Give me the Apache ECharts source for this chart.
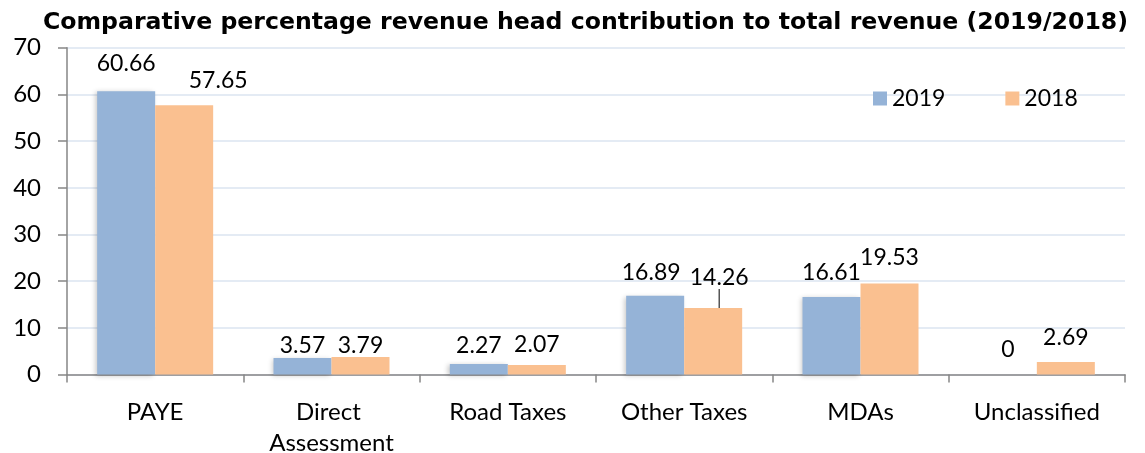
<!DOCTYPE html>
<html>
<head>
<meta charset="utf-8">
<script src="https://cdn.jsdelivr.net/npm/echarts@6/dist/echarts.min.js"></script>
<style>
html,body{margin:0;padding:0;background:#fff;}
#c{width:1145px;height:453px;}
</style>
</head>
<body>
<div id="c"></div>
<script>
var titleText = 'Comparative percentage revenue head contribution to total revenue (2019/2018)';
var categories = ['PAYE', 'Direct Assessment', 'Road Taxes', 'Other Taxes', 'MDAs', 'Unclassified'];
var seriesNames = ['2019', '2018'];
var values2019 = [60.66, 3.57, 2.27, 16.89, 16.61, 0];
var values2018 = [57.65, 3.79, 2.07, 14.26, 19.53, 2.69];
var yTicks = [0, 10, 20, 30, 40, 50, 60, 70];

// label nudges (style only): [dx, rise above bar top of label centre]
var nudge2019 = [[0, 28], [0, 13], [0, 19], [-4, 24], [0, 25], [0, 25.5]];
var nudge2018 = [[34, 25.5], [0, 12], [0, 21], [6, 31], [0, 26.5], [0, 25]];
var leaderIndex2018 = 3;

var FONT = 'Lato';
function mkData2019(vals, nudge) {
  return vals.map(function (v, i) {
    return { value: v, label: { offset: [nudge[i][0], -(nudge[i][1] - 12)] } };
  });
}
function mkData2018(vals, leaderIdx) {
  return vals.map(function (v, i) {
    if (i === leaderIdx) {
      return { value: v, labelLine: { show: true, lineStyle: { color: '#000', width: 1 } } };
    }
    return { value: v };
  });
}

var chart = echarts.init(document.getElementById('c'));
var option = {
  animation: false,
  backgroundColor: '#fff',
  title: {
    text: titleText,
    left: 38,
    top: 6,
    textStyle: { fontFamily: 'DejaVu Sans', fontWeight: 'bold', fontSize: 23.6, color: '#000' }
  },
  legend: {
    data: seriesNames,
    left: 868,
    top: 82,
    itemWidth: 14,
    itemHeight: 14,
    itemGap: 60,
    icon: 'rect',
    textStyle: { fontFamily: FONT, fontSize: 23, color: '#000' }
  },
  grid: { left: 67, right: 20, top: 47.7, bottom: 78.4, containLabel: false, outerBoundsMode: 'none' },
  xAxis: {
    type: 'category',
    data: categories,
    axisLine: { lineStyle: { color: '#868686', width: 1.5 } },
    axisTick: { show: true, length: 8, alignWithLabel: false, lineStyle: { color: '#868686', width: 1.5 } },
    axisLabel: {
      fontFamily: FONT, fontSize: 24, color: '#000', margin: 22,
      lineHeight: 31, width: 170, overflow: 'break', interval: 0
    }
  },
  yAxis: {
    type: 'value',
    min: yTicks[0],
    max: yTicks[yTicks.length - 1],
    interval: 10,
    axisLine: { show: true, lineStyle: { color: '#868686', width: 1.5 } },
    axisTick: { show: true, length: 9, lineStyle: { color: '#868686', width: 1.5 } },
    splitLine: { lineStyle: { color: '#dbe4f0', width: 1.5 } },
    axisLabel: { fontFamily: FONT, fontSize: 24, color: '#000', margin: 26 }
  },
  series: [
    {
      name: seriesNames[0],
      type: 'bar',
      barWidth: 58,
      barGap: '0%',
      itemStyle: { color: '#95b3d7', shadowColor: 'rgba(0,0,0,0.22)', shadowBlur: 5, shadowOffsetX: -2, shadowOffsetY: 1 },
      label: { show: true, position: 'top', distance: 0, fontFamily: FONT, fontSize: 23, color: '#000' },
      data: mkData2019(values2019, nudge2019)
    },
    {
      name: seriesNames[1],
      type: 'bar',
      barWidth: 58,
      barGap: '0%',
      itemStyle: { color: '#fac090' },
      label: { show: true, position: 'top', distance: 0, fontFamily: FONT, fontSize: 23, color: '#000' },
      labelLine: { show: false },
      labelLayout: function (p) {
        var n = nudge2018[p.dataIndex];
        return { dx: n[0], dy: -(n[1] - 12) };
      },
      data: mkData2018(values2018, leaderIndex2018)
    }
  ]
};
chart.setOption(option);
</script>
</body>
</html>
